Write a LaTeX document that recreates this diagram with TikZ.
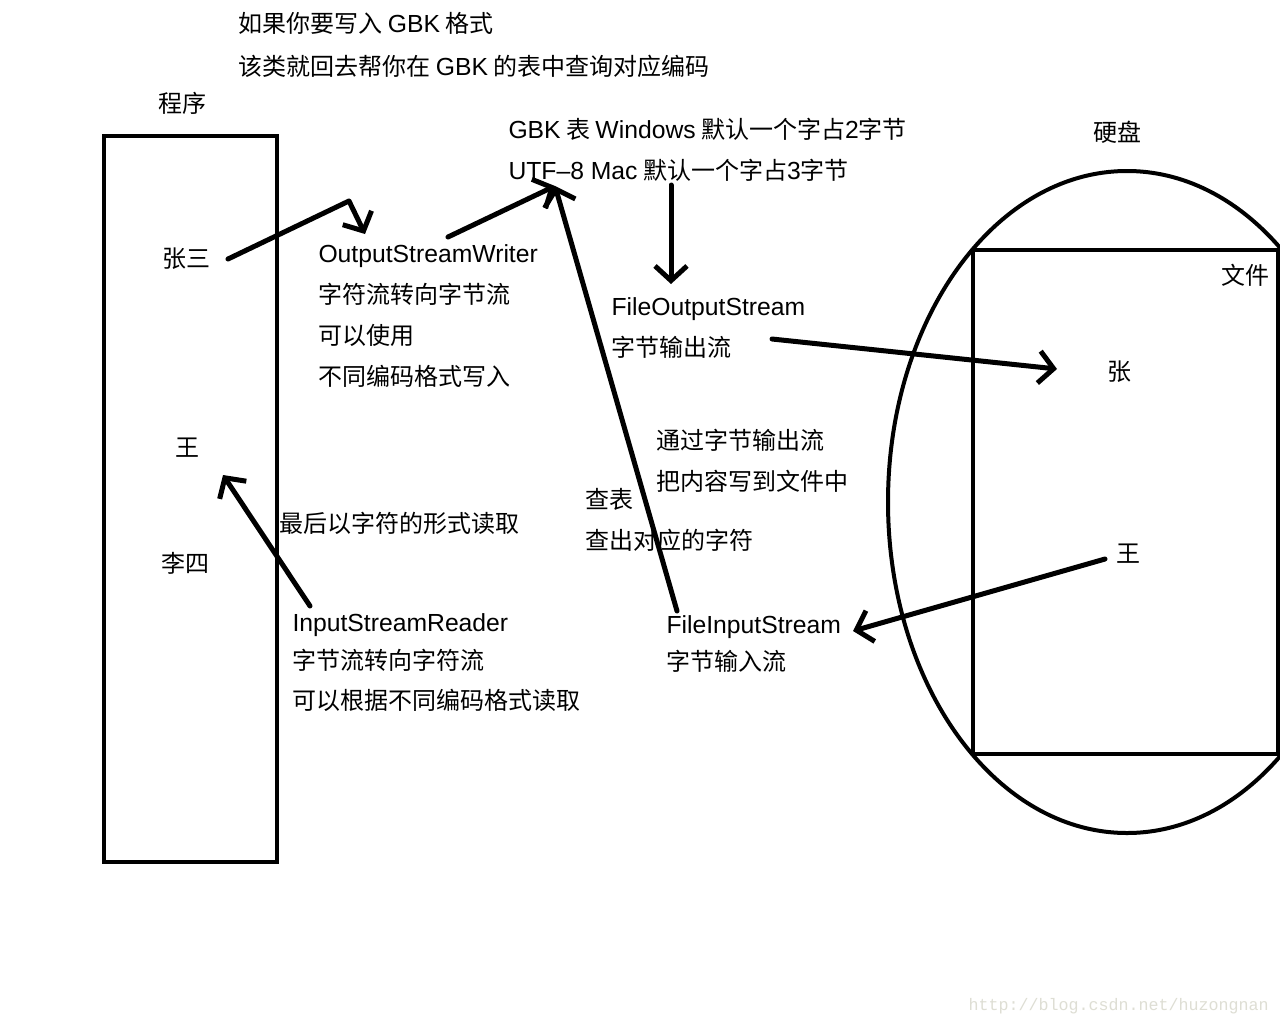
\documentclass[tikz,border=0pt]{standalone}
\usepackage{fontspec}
\setmainfont{Noto Sans CJK SC}
\newfontfamily\latf[Scale=1.03]{Liberation Sans}
\newfontfamily\wmfont{Liberation Mono}
\usetikzlibrary{arrows.meta}

\definecolor{wmgray}{RGB}{222,222,212}
\tikzset{every picture/.style={line width=0.75pt}}
\tikzset{
  txt/.style={anchor=base west,inner sep=0pt,font=\fontsize{18}{20}\selectfont},
  pen/.style={line width=3.75pt,line cap=round,line join=round,-{Straight Barb[length=11pt,width=24pt]}},
  outline/.style={line width=3pt}
}

\begin{document}
\begin{tikzpicture}[x=0.75pt,y=0.75pt,yscale=-1,xscale=1]
\clip (0,0) rectangle (1280,1024);
\fill [white] (0,0) rectangle (1280,1024);

%Shape: Rectangle [program]
\draw [outline] (104,136) rectangle (277,862);
%Shape: Ellipse [disk]
\draw [outline] (1127,502) ellipse [x radius=239,y radius=331];
%Shape: Rectangle [file]
\draw [outline] (973,250) rectangle (1278,754);

% Text Node
\node (hintA) [txt] at (238,33) {如果你要写入 {\latf GBK} 格式};
% Text Node
\node (hintB) [txt] at (238,75) {该类就回去帮你在 {\latf GBK} 的表中查询对应编码};
% Text Node
\node (prog) [txt] at (158,113) {程序};
% Text Node
\node (gbk) [txt] at (508,138) {{\latf GBK} 表 {\latf Windows} 默认一个字占{\latf 2}字节};
% Text Node
\node (utf) [txt] at (508,179) {{\latf UTF–8 Mac} 默认一个字占{\latf 3}字节};
% Text Node
\node (disk) [txt] at (1093,141) {硬盘};
% Text Node
\node (zs) [txt] at (162,267) {张三};
% Text Node
\node (osw) [txt] at (318,262) {\latf OutputStreamWriter};
% Text Node
\node (oswA) [txt] at (318,303) {字符流转向字节流};
% Text Node
\node (oswB) [txt] at (318,344) {可以使用};
% Text Node
\node (oswC) [txt] at (318,385) {不同编码格式写入};
% Text Node
\node (file) [txt] at (1221,284) {文件};
% Text Node
\node (fos) [txt] at (611,315) {\latf FileOutputStream};
% Text Node
\node (fosA) [txt] at (611,356) {字节输出流};
% Text Node
\node (fzhang) [txt] at (1107,380) {张};
% Text Node
\node (wang) [txt] at (175,456) {王};
% Text Node
\node (noteA) [txt] at (656,449) {通过字节输出流};
% Text Node
\node (noteB) [txt] at (656,490) {把内容写到文件中};
% Text Node
\node (lookA) [txt] at (585,508) {查表};
% Text Node
\node (lookB) [txt] at (585,549) {查出对应的字符};
% Text Node
\node (readA) [txt] at (279,532) {最后以字符的形式读取};
% Text Node
\node (ls) [txt] at (161,572) {李四};
% Text Node
\node (fwang) [txt] at (1116,562) {王};
% Text Node
\node (isr) [txt] at (292,631) {\latf InputStreamReader};
% Text Node
\node (isrA) [txt] at (292,669) {字节流转向字符流};
% Text Node
\node (isrB) [txt] at (292,709) {可以根据不同编码格式读取};
% Text Node
\node (fis) [txt] at (666,633) {\latf FileInputStream};
% Text Node
\node (fisA) [txt] at (666,670) {字节输入流};
% Text Node
\node (mark) [anchor=base west,inner sep=0pt,font=\wmfont\fontsize{12.5}{14}\selectfont,text=wmgray] at (968,1010) {http://blog.csdn.net/huzongnan};

% arrow ends
\coordinate (zsR) at (228,259);
\coordinate (bend) at (349,201);
\coordinate (oswT) at (365,234);
\coordinate (oswR) at (448,237);
\coordinate (utfT) at (555,186);
\coordinate (fisT) at (677,611);
\coordinate (utfB) at (671,185);
\coordinate (fosT) at (671,284);
\coordinate (fosR) at (772,339);
\coordinate (zhangL) at (1057,369);
\coordinate (wangL) at (1105,559);
\coordinate (fisR) at (853,631);
\coordinate (isrT) at (310,606);
\coordinate (wangB) at (223,475);

%Straight Lines
\draw [pen] (zsR) -- (bend) -- (oswT);
%Straight Lines
\draw [pen] (oswR) -- (utfT);
%Straight Lines
\draw [pen] (fisT) -- (utfT);
%Straight Lines
\draw [pen] (utfB) -- (fosT);
%Straight Lines
\draw [pen] (fosR) -- (zhangL);
%Straight Lines
\draw [pen] (wangL) -- (fisR);
%Straight Lines
\draw [pen] (isrT) -- (wangB);

\end{tikzpicture}
\end{document}
